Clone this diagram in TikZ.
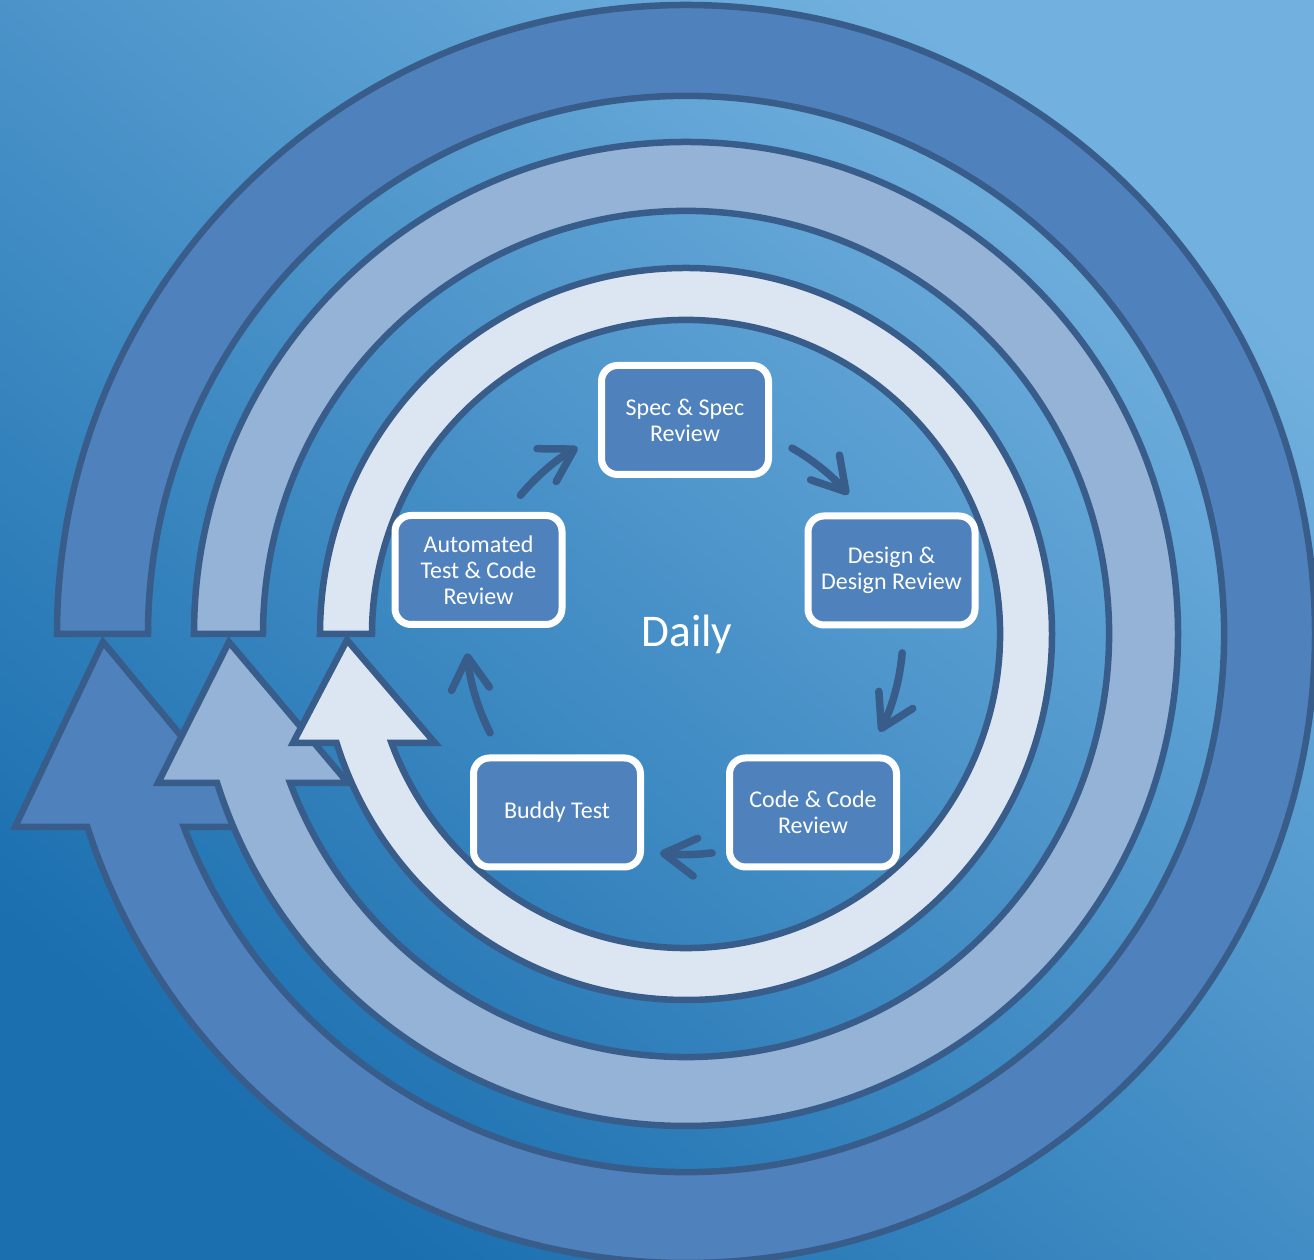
\documentclass[tikz,border=0pt]{standalone}
\usepackage{fontspec}
\setmainfont{Carlito}
\usetikzlibrary{arrows.meta}
\definecolor{ringline}{HTML}{385D8A}
\definecolor{ringA}{HTML}{4F81BD}
\definecolor{ringB}{HTML}{95B3D7}
\definecolor{ringC}{HTML}{DCE6F2}
\definecolor{boxfill}{HTML}{4F81BD}
\definecolor{bgdark}{HTML}{1B6FAF}
\definecolor{bgmid}{HTML}{3B8AC6}
\definecolor{bglight}{HTML}{72B1DF}
\begin{document}
\begin{tikzpicture}[
  ringstyle/.style={draw=ringline, line width=0.065cm, line join=miter},
  stepbox/.style={rounded corners=0.16cm, draw=white, line width=0.07cm, fill=boxfill,
    text=white, minimum width=1.67cm, minimum height=1.09cm, align=center,
    font=\fontsize{6.83pt}{7.4pt}\selectfont, inner sep=0pt},
  smallarr/.style={draw=ringline, line width=0.075cm, line cap=round,
    -{Straight Barb[length=3.2mm, width=3.8mm, round]}}
]
\useasboundingbox (-6.86,-6.26) rectangle (6.28,6.34);
\shade[bottom color=bgdark, middle color=bgmid, top color=bglight, shading angle=-40] (-6.86,-6.26) rectangle (6.28,6.34);
\coordinate (C) at (0,0);

% outer ring
\path[ringstyle, fill=ringA] (180:6.29) arc[start angle=180, end angle={asin(1.93/6.29)-180}, radius=6.29]
  -- (-6.71,-1.93) -- (-5.83,-0.08) -- (-4.29,-1.93)
  -- ({asin(1.93/5.38)-180}:5.38) arc[start angle={asin(1.93/5.38)-180}, end angle=180, radius=5.38] -- cycle;
% middle ring
\path[ringstyle, fill=ringB] (180:4.92) arc[start angle=180, end angle={asin(1.49/4.92)-180}, radius=4.92]
  -- (-5.28,-1.49) -- (-4.57,-0.08) -- (-3.38,-1.49)
  -- ({asin(1.49/4.23)-180}:4.23) arc[start angle={asin(1.49/4.23)-180}, end angle=180, radius=4.23] -- cycle;
% inner ring
\path[ringstyle, fill=ringC] (180:3.66) arc[start angle=180, end angle={asin(1.09/3.66)-180}, radius=3.66]
  -- (-3.93,-1.09) -- (-3.39,-0.06) -- (-2.51,-1.09)
  -- ({asin(1.09/3.14)-180}:3.14) arc[start angle={asin(1.09/3.14)-180}, end angle=180, radius=3.14] -- cycle;

\node[stepbox] (spec) at (-0.01,2.14) {Spec \& Spec\\Review};
\node[stepbox] (design) at (2.055,0.635) {Design \&\\Design Review};
\node[stepbox] (code) at (1.27,-1.785) {Code \& Code\\Review};
\node[stepbox] (buddy) at (-1.29,-1.785) {Buddy Test};
\node[stepbox] (auto) at (-2.075,0.64) {Automated\\Test \& Code\\Review};
\node[text=white, font=\fontsize{12.9pt}{15pt}\selectfont, anchor=base, inner sep=0pt] (daily) at (0.01,-0.13) {Daily};

\draw[smallarr] ([shift={(140.06:2.16)}]C) arc[start angle=140.06, end angle=120.14, radius=2.16];
\draw[smallarr] ([shift={(60.3:2.14)}]C) arc[start angle=60.3, end angle=40.65, radius=2.14];
\draw[smallarr] ([shift={(-5.0:2.17)}]C) arc[start angle=-5.0, end angle=-26.8, radius=2.17];
\draw[smallarr] ([shift={(-83.2:2.205)}]C) arc[start angle=-83.2, end angle=-96.8, radius=2.205];
\draw[smallarr] ([shift={(-153.2:2.195)}]C) arc[start angle=-153.2, end angle=-175.0, radius=2.195];
\end{tikzpicture}
\end{document}
